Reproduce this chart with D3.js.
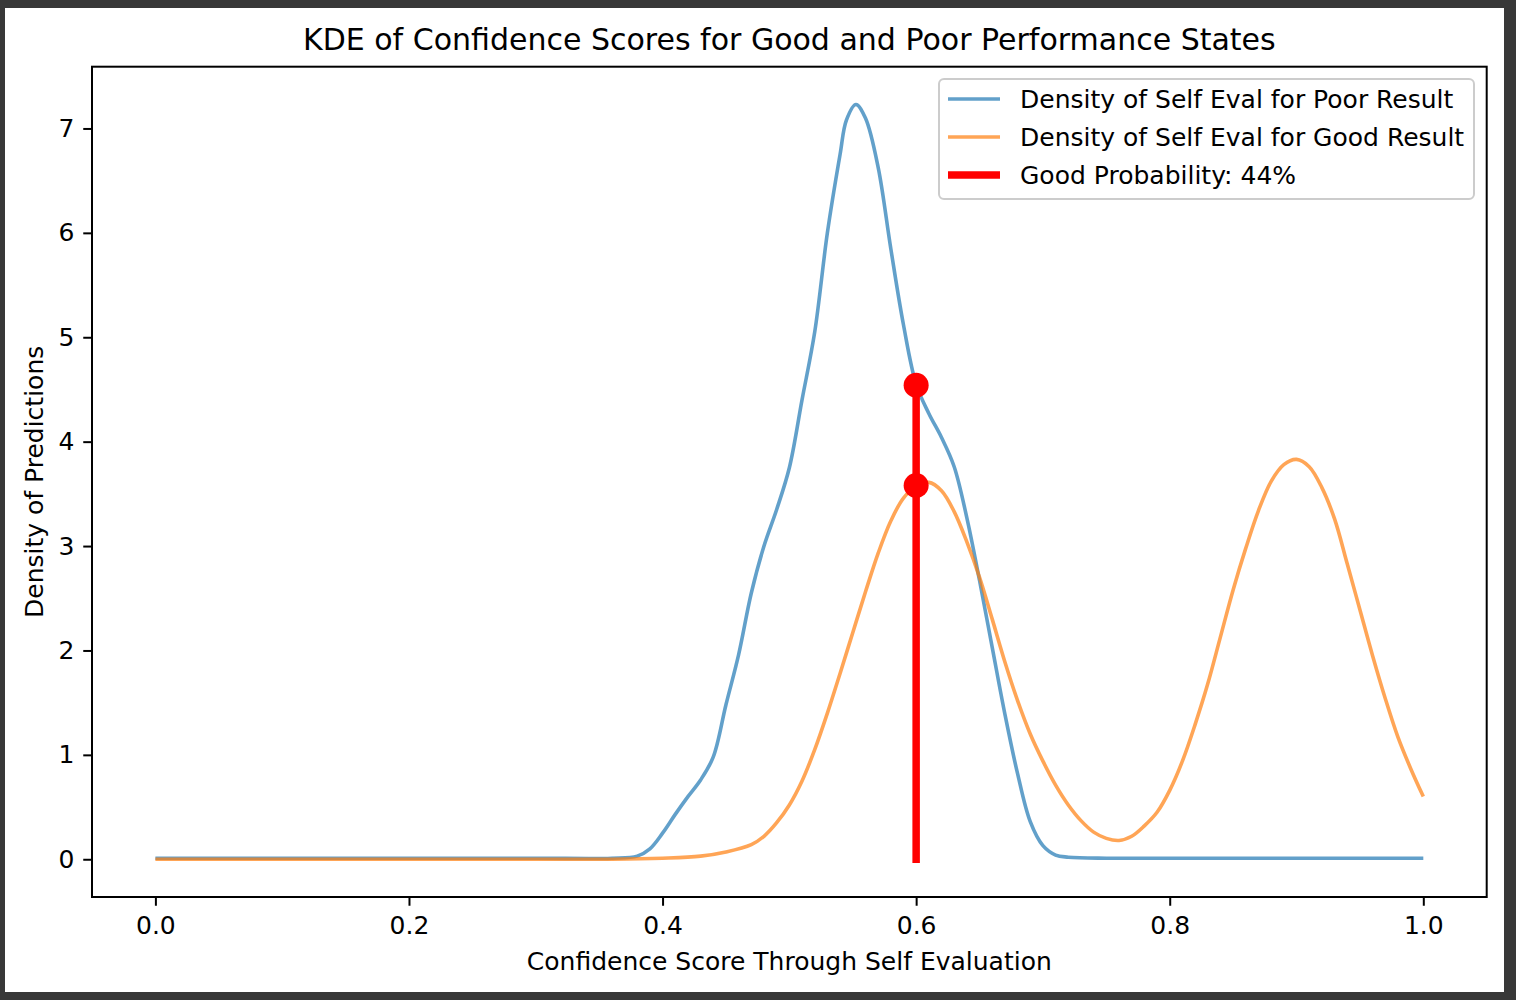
<!DOCTYPE html>
<html>
<head>
<meta charset="utf-8">
<script src="https://cdn.jsdelivr.net/npm/d3@7"></script>
<style>
  html, body { margin: 0; padding: 0; background: #383838; }
  svg { display: block; }
</style>
</head>
<body>
<div id="chart"></div>
<script>
// Values
const poorX = [0.00, 0.10, 0.20, 0.30, 0.36, 0.38, 0.39, 0.40, 0.41, 0.42, 0.43, 0.44, 0.45, 0.46,
    0.47, 0.48, 0.49, 0.50, 0.51, 0.52, 0.53, 0.54, 0.545, 0.5525, 0.56, 0.57, 0.58, 0.59, 0.60,
    0.61, 0.62, 0.63, 0.64, 0.65, 0.66, 0.67, 0.68, 0.69, 0.70, 0.71, 0.72, 0.75, 0.80, 0.90, 1.00];
const poorY = [0.01, 0.01, 0.01, 0.01, 0.01, 0.03, 0.10, 0.25, 0.43, 0.60, 0.76, 0.98, 1.48, 1.96,
    2.55, 3.00, 3.35, 3.75, 4.40, 5.05, 6.00, 6.75, 7.08, 7.23, 7.10, 6.63, 5.85, 5.12, 4.55,
    4.27, 4.04, 3.76, 3.27, 2.67, 2.03, 1.39, 0.82, 0.36, 0.13, 0.04, 0.02, 0.01, 0.01, 0.01, 0.01];

const goodX = [0.00, 0.10, 0.20, 0.30, 0.36, 0.40, 0.43, 0.45, 0.47, 0.48, 0.49, 0.50, 0.51, 0.52,
    0.53, 0.54, 0.55, 0.56, 0.57, 0.58, 0.59, 0.60, 0.61, 0.62, 0.63, 0.64, 0.65, 0.66, 0.67,
    0.68, 0.69, 0.70, 0.71, 0.72, 0.73, 0.74, 0.75, 0.76, 0.77, 0.78, 0.79, 0.80, 0.81, 0.82,
    0.83, 0.84, 0.85, 0.86, 0.87, 0.88, 0.89, 0.90, 0.91, 0.92, 0.93, 0.94, 0.95, 0.96, 0.97,
    0.98, 0.99, 1.00];
const goodY = [0.00, 0.00, 0.00, 0.00, 0.00, 0.01, 0.03, 0.07, 0.14, 0.22, 0.35, 0.52, 0.75, 1.05,
    1.40, 1.78, 2.17, 2.56, 2.93, 3.24, 3.46, 3.57, 3.61, 3.53, 3.33, 3.04, 2.70, 2.30, 1.89,
    1.52, 1.20, 0.94, 0.71, 0.52, 0.37, 0.26, 0.20, 0.18, 0.22, 0.32, 0.45, 0.66, 0.94, 1.29,
    1.68, 2.13, 2.58, 2.98, 3.34, 3.62, 3.78, 3.83, 3.76, 3.56, 3.26, 2.83, 2.39, 1.95, 1.54,
    1.17, 0.87, 0.60];

// Marker for the evaluated confidence
const markX = 0.60;
const markPoor = 4.54;
const markGood = 3.58;

const xTicks = [0.0, 0.2, 0.4, 0.6, 0.8, 1.0];
const yTicks = [0, 1, 2, 3, 4, 5, 6, 7];

const seriesNames = [
    "Density of Self Eval for Poor Result",
    "Density of Self Eval for Good Result",
    "Good Probability: 44%"
];
const titleText = "KDE of Confidence Scores for Good and Poor Performance States";
const xLabel = "Confidence Score Through Self Evaluation";
const yLabel = "Density of Predictions";

// Layout
const W = 1516, H = 1000;
const plot = {left: 92, right: 1486.7, top: 66.7, bottom: 897};
const font = "'DejaVu Sans', sans-serif";
const blue = "#1f77b4", orange = "#ff7f0e";

const svg = d3.select("#chart")
    .append("svg")
    .attr("width", W)
    .attr("height", H);

// Dark frame and white figure
svg.append("rect").attr("width", W).attr("height", H).attr("fill", "#383838");
svg.append("rect")
    .attr("x", 5).attr("y", 8)
    .attr("width", 1499).attr("height", 984)
    .attr("fill", "white");

// Scales (matplotlib style 5% margins)
const x = d3.scaleLinear().domain([-0.05, 1.05]).range([plot.left, plot.right]);

const allY = poorY.concat(goodY);
const yMin = d3.min(allY), yMax = d3.max(allY);
const yPad = (yMax - yMin) * 0.05;
const y = d3.scaleLinear().domain([yMin - yPad, yMax + yPad]).range([plot.bottom, plot.top]);

const line = d3.line()
    .x(d => x(d[0]))
    .y(d => y(d[1]))
    .curve(d3.curveCatmullRom.alpha(0.5));

const g = svg.append("g");

// Density curves
g.append("path")
    .datum(d3.zip(poorX, poorY))
    .attr("fill", "none")
    .attr("stroke", blue)
    .attr("stroke-opacity", 0.7)
    .attr("stroke-width", 3.6)
    .attr("d", line);

g.append("path")
    .datum(d3.zip(goodX, goodY))
    .attr("fill", "none")
    .attr("stroke", orange)
    .attr("stroke-opacity", 0.7)
    .attr("stroke-width", 3.6)
    .attr("d", line);

// Red vertical marker with dots
g.append("line")
    .attr("x1", x(markX)).attr("x2", x(markX))
    .attr("y1", y(0)).attr("y2", y(markPoor))
    .attr("stroke", "red")
    .attr("stroke-width", 7.5)
    .attr("stroke-linecap", "square");

g.selectAll(".mark-dot")
    .data([markPoor, markGood])
    .enter()
    .append("circle")
    .attr("class", "mark-dot")
    .attr("cx", x(markX))
    .attr("cy", d => y(d))
    .attr("r", 12.5)
    .attr("fill", "red");

// Axes
const xAxis = svg.append("g")
    .attr("transform", `translate(0,${plot.bottom})`)
    .call(d3.axisBottom(x).tickValues(xTicks).tickFormat(d3.format(".1f"))
        .tickSize(8.75).tickPadding(10));

const yAxis = svg.append("g")
    .attr("transform", `translate(${plot.left},0)`)
    .call(d3.axisLeft(y).tickValues(yTicks).tickFormat(d3.format("d"))
        .tickSize(8.75).tickPadding(8.75));

[xAxis, yAxis].forEach(ax => {
    ax.select(".domain").remove();
    ax.selectAll("line").attr("stroke", "black").attr("stroke-width", 2);
    ax.selectAll("text")
        .style("font-family", font)
        .style("font-size", "25px")
        .attr("fill", "#000");
});

// Spines
svg.append("rect")
    .attr("x", plot.left).attr("y", plot.top)
    .attr("width", plot.right - plot.left)
    .attr("height", plot.bottom - plot.top)
    .attr("fill", "none")
    .attr("stroke", "black")
    .attr("stroke-width", 2);

// Title and labels
const midX = (plot.left + plot.right) / 2;
svg.append("text")
    .attr("x", midX).attr("y", 50)
    .attr("text-anchor", "middle")
    .style("font-family", font)
    .style("font-size", "30px")
    .text(titleText);

svg.append("text")
    .attr("x", midX).attr("y", 970)
    .attr("text-anchor", "middle")
    .style("font-family", font)
    .style("font-size", "25px")
    .text(xLabel);

svg.append("text")
    .attr("transform", `translate(43,${(plot.top + plot.bottom) / 2}) rotate(-90)`)
    .attr("text-anchor", "middle")
    .style("font-family", font)
    .style("font-size", "25px")
    .text(yLabel);

// Legend
const legend = svg.append("g").attr("transform", "translate(939,79)");
legend.append("rect")
    .attr("width", 535).attr("height", 120)
    .attr("rx", 5).attr("ry", 5)
    .attr("fill", "white").attr("fill-opacity", 0.8)
    .attr("stroke", "#cccccc")
    .attr("stroke-width", 2);

const legendColors = [blue, orange, "red"];
const legendOpacity = [0.7, 0.7, 1];
const legendWidths = [3.6, 3.6, 7.5];

const rows = legend.selectAll(".legend-row")
    .data(seriesNames)
    .enter()
    .append("g")
    .attr("class", "legend-row")
    .attr("transform", (d, i) => `translate(0,${20 + i * 38})`);

rows.append("line")
    .attr("x1", 9).attr("x2", 61)
    .attr("y1", 0).attr("y2", 0)
    .attr("stroke", (d, i) => legendColors[i])
    .attr("stroke-opacity", (d, i) => legendOpacity[i])
    .attr("stroke-width", (d, i) => legendWidths[i]);

rows.append("text")
    .attr("x", 81).attr("y", 9)
    .style("font-family", font)
    .style("font-size", "25px")
    .text(d => d);
</script>
</body>
</html>
